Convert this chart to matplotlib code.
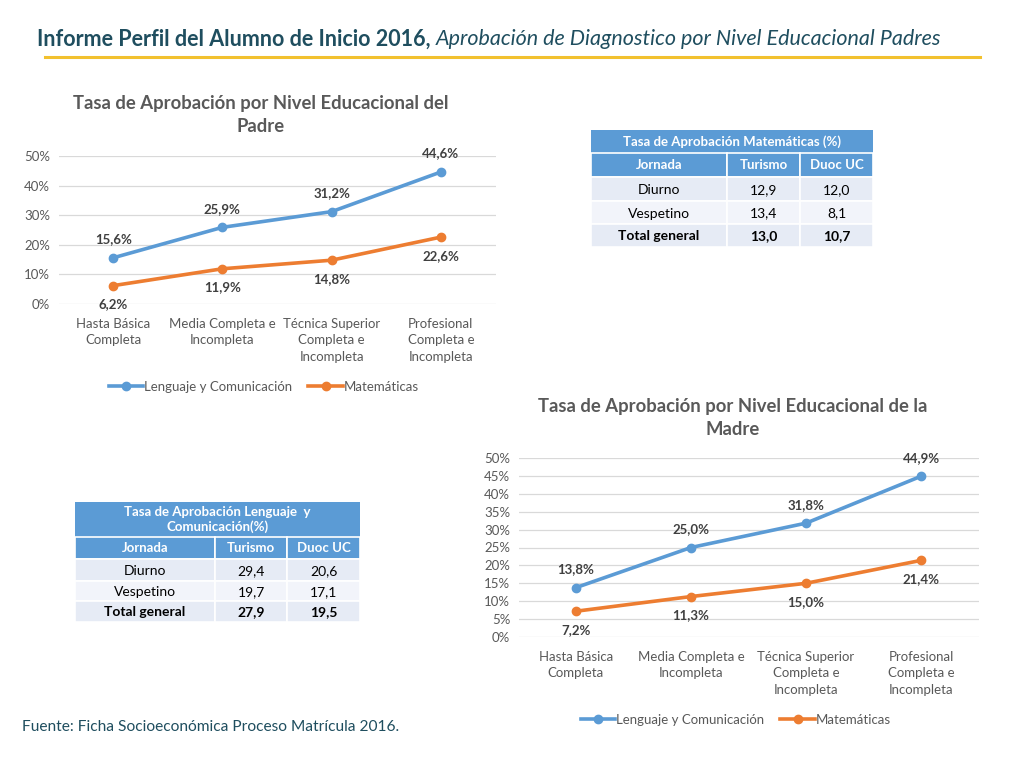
import matplotlib.pyplot as plt
import matplotlib.ticker as mticker

plt.rcParams['font.family'] = ['Lato', 'DejaVu Sans']

niveles = ['Hasta Básica\nCompleta', 'Media Completa e\nIncompleta',
           'Técnica Superior\nCompleta e\nIncompleta', 'Profesional\nCompleta e\nIncompleta']
padre_leng = [15.6, 25.9, 31.2, 44.6]
padre_mat = [6.2, 11.9, 14.8, 22.6]
madre_leng = [13.8, 25.0, 31.8, 44.9]
madre_mat = [7.2, 11.3, 15.0, 21.4]

jornadas = ['Diurno', 'Vespetino', 'Total general']
mat_turismo = ['12,9', '13,4', '13,0']
mat_duoc = ['12,0', '8,1', '10,7']
leng_turismo = ['29,4', '19,7', '27,9']
leng_duoc = ['20,6', '17,1', '19,5']

BLUE = '#5B9BD5'
ORANGE = '#ED7D31'
GRAY = '#595959'
TEAL = '#1F4E5F'

W, H = 1024, 768
fig = plt.figure(figsize=(W / 100, H / 100), dpi=100)


def fx(px):
    return px / W


def fy(py):
    return 1 - py / H


def line_chart(rect, leng, mat, ymax, step, title, title_x, title_y, legend_x, legend_y):
    ax = fig.add_axes(rect)
    x = range(len(niveles))
    ax.plot(x, leng, color=BLUE, lw=2.6, marker='o', ms=6, label='Lenguaje y Comunicación')
    ax.plot(x, mat, color=ORANGE, lw=2.6, marker='o', ms=6, label='Matemáticas')
    for i in x:
        ax.annotate(f'{leng[i]:.1f}%'.replace('.', ','), (i, leng[i]), xytext=(0, 9),
                    textcoords='offset points', ha='center', va='bottom',
                    fontsize=9.5, fontweight='bold', color='#404040')
        ax.annotate(f'{mat[i]:.1f}%'.replace('.', ','), (i, mat[i]), xytext=(0, -9),
                    textcoords='offset points', ha='center', va='top',
                    fontsize=9.5, fontweight='bold', color='#404040')
    ax.set_xlim(-0.5, len(niveles) - 0.5)
    ax.set_ylim(0, ymax)
    ax.set_yticks([v for v in range(0, ymax + 1, step)])
    ax.yaxis.set_major_formatter(mticker.FuncFormatter(lambda v, p: f'{v:.0f}%'))
    ax.set_xticks(list(x))
    ax.set_xticklabels(niveles, linespacing=1.45)
    ax.tick_params(length=0, labelsize=9.5, colors=GRAY)
    ax.tick_params(axis='x', pad=10)
    ax.tick_params(axis='y', pad=6)
    ax.grid(axis='y', color='#D9D9D9', lw=0.9)
    ax.set_axisbelow(True)
    for s in ax.spines.values():
        s.set_visible(False)
    ax.set_facecolor('none')
    fig.text(title_x, title_y, title, ha='center', va='center', fontsize=13.3,
             fontweight='bold', color=GRAY, linespacing=1.4)
    fig.legend(*ax.get_legend_handles_labels(), loc='center',
               bbox_to_anchor=(legend_x, legend_y), ncol=2, frameon=False, fontsize=9.5,
               labelcolor=GRAY, handlelength=2.6, columnspacing=1.2, handletextpad=0.1)
    return ax


line_chart([fx(58.5), fy(304), fx(437), (304 - 156) / H], padre_leng, padre_mat, 50, 10,
           'Tasa de Aprobación por Nivel Educacional del\nPadre', fx(261), fy(115),
           fx(264), fy(387))
line_chart([fx(518.5), fy(637), fx(460), (637 - 458) / H], madre_leng, madre_mat, 50, 5,
           'Tasa de Aprobación por Nivel Educacional de la\nMadre', fx(733), fy(418),
           fx(736), fy(720))


def table(x0, x1, cols, ys, title, turismo, duoc):
    # ys: top of title, header top, row tops..., bottom
    ax = fig.add_axes([0, 0, 1, 1])
    ax.set_xlim(0, W)
    ax.set_ylim(H, 0)
    ax.axis('off')
    ax.add_patch(plt.Rectangle((x0, ys[0]), x1 - x0, ys[1] - ys[0], color=BLUE, lw=0))
    ax.text((x0 + x1) / 2, (ys[0] + ys[1]) / 2, title, ha='center', va='center',
            fontsize=9.5, fontweight='bold', color='white', linespacing=1.2)
    xs = [x0] + cols + [x1]
    header = ['Jornada', 'Turismo', 'Duoc UC']
    for j in range(3):
        ax.add_patch(plt.Rectangle((xs[j], ys[1]), xs[j + 1] - xs[j], ys[2] - ys[1],
                                   facecolor=BLUE, edgecolor='white', lw=1.2))
        ax.text((xs[j] + xs[j + 1]) / 2, (ys[1] + ys[2]) / 2, header[j], ha='center',
                va='center', fontsize=9.5, fontweight='bold', color='white')
    fills = ['#E6EBF5', '#F2F4FA', '#E6EBF5']
    for i, row in enumerate(jornadas):
        vals = [row, turismo[i], duoc[i]]
        for j in range(3):
            ax.add_patch(plt.Rectangle((xs[j], ys[i + 2]), xs[j + 1] - xs[j],
                                       ys[i + 3] - ys[i + 2], facecolor=fills[i],
                                       edgecolor='white', lw=1.2))
            ax.text((xs[j] + xs[j + 1]) / 2, (ys[i + 2] + ys[i + 3]) / 2 + 1, vals[j],
                    ha='center', va='center', fontsize=10, color='black',
                    fontweight='bold' if i == 2 else 'normal')


table(591, 873, [727, 800], [130, 153, 177, 201, 224, 247],
      'Tasa de Aprobación Matemáticas (%)', mat_turismo, mat_duoc)
table(75, 360, [215, 287], [502, 537, 559, 581, 601, 622],
      'Tasa de Aprobación Lenguaje  y\nComunicación(%)', leng_turismo, leng_duoc)

# encabezado
t1 = fig.text(fx(37), fy(39), 'Informe Perfil del Alumno de Inicio 2016,', ha='left',
              va='center', fontsize=15.5, fontweight='bold', color=TEAL)
fig.canvas.draw()
bb = t1.get_window_extent()
fig.text(bb.x1 / W + 0.005, fy(39), 'Aprobación de Diagnostico por Nivel Educacional Padres',
         ha='left', va='center', fontsize=15.5, style='italic', color=TEAL)
fig.add_artist(plt.Line2D([fx(45), fx(980)], [fy(57), fy(57)], color='#F2C12E', lw=2.2))

fig.text(fx(22), fy(727), 'Fuente: Ficha Socioeconómica Proceso Matrícula 2016.', ha='left',
         va='center', fontsize=11.2, color=TEAL)

fig.savefig('out.png', dpi=100)
